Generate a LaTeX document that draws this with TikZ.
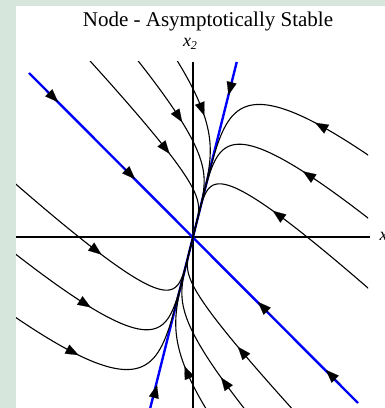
\documentclass[tikz,border=0pt]{standalone}
\usepackage{fontspec}
\setmainfont{Liberation Serif}
\usetikzlibrary{arrows.meta}
\definecolor{bggreen}{RGB}{214,230,220}
\definecolor{eigblue}{RGB}{0,0,255}
\tikzset{
  trajline/.style={line width=1.1pt, black},
  eigline/.style={line width=2.4pt, eigblue},
  axisline/.style={line width=1.2pt, black},
  tipst/.style={-{Triangle[length=13pt,width=10pt]}, line width=0.1pt, black},
}
% trajectory: alpha_e, beta_e  (point = a t (1,4) + b t^6 (1,-1))
\newcommand\trajc[2]{\draw[trajline] plot[domain=0.001:1.25,samples=120,variable=\t]
  ({(#1)*\t+(#2)*(\t)^6},{4*(#1)*\t-(#2)*(\t)^6});}
\newcommand\ctip[3]{\draw[tipst]
  ({(#1)*(#3+0.03)+(#2)*(#3+0.03)^6},{4*(#1)*(#3+0.03)-(#2)*(#3+0.03)^6}) --
  ({(#1)*(#3)+(#2)*(#3)^6},{4*(#1)*(#3)-(#2)*(#3)^6});}
\begin{document}
\begin{tikzpicture}[x=1pt,y=1pt]
\useasboundingbox (0,0) rectangle (385,408);
\fill[bggreen] (0,0) rectangle (385,408);
\fill[white] (16,0) rectangle (385,402);
\node[font=\fontsize{21}{24}\selectfont] (title) at (208,387) {Node - Asymptotically Stable};
\node[font=\fontsize{18}{20}\selectfont] (xtwo) at (190,364) {\textit{x}\raisebox{-0.35ex}{\fontsize{12}{13}\selectfont\textit{2}}};
\node[anchor=west,font=\fontsize{18}{20}\selectfont] (xone) at (376,170) {\textit{x}\raisebox{-0.35ex}{\fontsize{12}{13}\selectfont\textit{1}}};
\begin{scope}[shift={(193,171)}]
  \coordinate (O) at (0,0);
  \draw[axisline] (-177,0) -- (177,0);
  \draw[axisline] (0,175) -- (0,-171);
  % eigenvector lines
  \draw[eigline] (-164,164) -- (165,-166);
  \draw[eigline] (43.75,175) -- (-42.75,-171);
  \begin{scope}
    \clip (-177,-171) rectangle (175,175);
    \trajc{51.4}{123.6}
    \trajc{38.8}{136.2}
    \trajc{24.8}{150.2}
    \trajc{14.6}{-116.6}
    \trajc{24.2}{-78.2}
    \trajc{32}{-47}
    \trajc{-51.4}{-123.6}
    \trajc{-38.8}{-136.2}
    \trajc{-24.8}{-150.2}
    \trajc{-14.6}{116.6}
    \trajc{-24.2}{78.2}
    \trajc{-32}{47}
  \end{scope}
  % arrow tips on trajectories
  \ctip{51.4}{123.6}{0.92}
  \ctip{38.8}{136.2}{0.905}
  \ctip{24.8}{150.2}{0.855}
  \ctip{14.6}{-116.6}{0.82}
  \ctip{24.2}{-78.2}{0.86}
  \ctip{32}{-47}{0.83}
  \ctip{-51.4}{-123.6}{0.905}
  \ctip{-38.8}{-136.2}{0.89}
  \ctip{-24.8}{-150.2}{0.88}
  \ctip{-14.6}{116.6}{0.89}
  \ctip{-24.2}{78.2}{0.93}
  \ctip{-32}{47}{0.86}
  % arrow tips on eigenlines
  \draw[tipst] (-149,149) -- (-135,135);
  \draw[tipst] (-72,72) -- (-58,58);
  \draw[tipst] (79,-79) -- (65,-65);
  \draw[tipst] (147,-147) -- (133,-133);
  \draw[tipst] (39.5,158) -- (35.5,142);
  \draw[tipst] (-40,-164) -- (-36,-148);
\end{scope}
\end{tikzpicture}
\end{document}
